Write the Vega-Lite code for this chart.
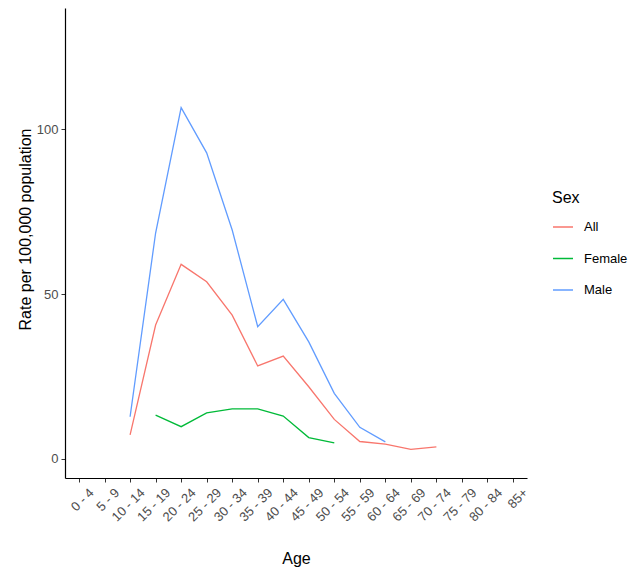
{
  "$schema": "https://vega.github.io/schema/vega-lite/v6.json",
  "width": 462,
  "height": 470,
  "autosize": "none",
  "padding": {"left": 65, "top": 8, "right": 114, "bottom": 96},
  "background": "white",
  "config": {
    "view": {"stroke": null},
    "font": "Liberation Sans"
  },
  "data": {
    "values": [
      {"age": "10 - 14", "sex": "All", "rate": 7.3},
      {"age": "15 - 19", "sex": "All", "rate": 40.6},
      {"age": "20 - 24", "sex": "All", "rate": 59.0},
      {"age": "25 - 29", "sex": "All", "rate": 53.7},
      {"age": "30 - 34", "sex": "All", "rate": 43.6},
      {"age": "35 - 39", "sex": "All", "rate": 28.2},
      {"age": "40 - 44", "sex": "All", "rate": 31.2},
      {"age": "45 - 49", "sex": "All", "rate": 21.9},
      {"age": "50 - 54", "sex": "All", "rate": 12.0},
      {"age": "55 - 59", "sex": "All", "rate": 5.3},
      {"age": "60 - 64", "sex": "All", "rate": 4.5},
      {"age": "65 - 69", "sex": "All", "rate": 2.9},
      {"age": "70 - 74", "sex": "All", "rate": 3.7},
      {"age": "15 - 19", "sex": "Female", "rate": 13.3},
      {"age": "20 - 24", "sex": "Female", "rate": 9.8},
      {"age": "25 - 29", "sex": "Female", "rate": 14.0},
      {"age": "30 - 34", "sex": "Female", "rate": 15.2},
      {"age": "35 - 39", "sex": "Female", "rate": 15.2},
      {"age": "40 - 44", "sex": "Female", "rate": 13.0},
      {"age": "45 - 49", "sex": "Female", "rate": 6.5},
      {"age": "50 - 54", "sex": "Female", "rate": 4.9},
      {"age": "10 - 14", "sex": "Male", "rate": 12.8},
      {"age": "15 - 19", "sex": "Male", "rate": 68.5},
      {"age": "20 - 24", "sex": "Male", "rate": 106.5},
      {"age": "25 - 29", "sex": "Male", "rate": 92.8},
      {"age": "30 - 34", "sex": "Male", "rate": 69.4},
      {"age": "35 - 39", "sex": "Male", "rate": 40.1},
      {"age": "40 - 44", "sex": "Male", "rate": 48.4},
      {"age": "45 - 49", "sex": "Male", "rate": 35.5},
      {"age": "50 - 54", "sex": "Male", "rate": 19.9},
      {"age": "55 - 59", "sex": "Male", "rate": 9.6},
      {"age": "60 - 64", "sex": "Male", "rate": 5.2}
    ]
  },
  "mark": {"type": "line", "strokeWidth": 1.3},
  "encoding": {
    "x": {
      "field": "age",
      "type": "ordinal",
      "sort": null,
      "scale": {
        "type": "point",
        "padding": 0.55,
        "domain": ["0 - 4", "5 - 9", "10 - 14", "15 - 19", "20 - 24", "25 - 29", "30 - 34", "35 - 39", "40 - 44", "45 - 49", "50 - 54", "55 - 59", "60 - 64", "65 - 69", "70 - 74", "75 - 79", "80 - 84", "85+"]
      },
      "axis": {
        "title": "Age",
        "titleFontSize": 16,
        "titleFontWeight": "normal",
        "titleColor": "black",
        "titleBaseline": "middle",
        "titleY": 80,
        "labelAngle": -45,
        "labelAlign": "right",
        "labelBaseline": "top",
        "labelFontSize": 13,
        "labelColor": "#4D4D4D",
        "labelPadding": 4,
        "labelOffset": 8,
        "domainColor": "black",
        "domainWidth": 1.2,
        "tickColor": "#333333",
        "tickSize": 4,
        "grid": false
      }
    },
    "y": {
      "field": "rate",
      "type": "quantitative",
      "scale": {"domain": [-5.76, 136.7], "nice": false, "zero": false},
      "axis": {
        "title": "Rate per 100,000 population",
        "titleFontSize": 16,
        "titleFontWeight": "normal",
        "titleColor": "black",
        "titleBaseline": "middle",
        "titleX": -40,
        "titleY": 221,
        "values": [0, 50, 100],
        "labelFontSize": 13,
        "labelColor": "#4D4D4D",
        "labelPadding": 3,
        "domainColor": "black",
        "domainWidth": 1.2,
        "tickColor": "#333333",
        "tickSize": 4,
        "grid": false
      }
    },
    "color": {
      "field": "sex",
      "type": "nominal",
      "scale": {"domain": ["All", "Female", "Male"], "range": ["#F8766D", "#00BA38", "#619CFF"]},
      "legend": {
        "title": "Sex",
        "orient": "none",
        "legendX": 487,
        "legendY": 182,
        "titleFontSize": 16,
        "titleFontWeight": "normal",
        "titleColor": "black",
        "titlePadding": 10,
        "labelFontSize": 13,
        "labelColor": "black",
        "labelOffset": 10,
        "symbolType": "stroke",
        "symbolSize": 400,
        "symbolStrokeWidth": 1.5,
        "rowPadding": 13.5
      }
    }
  }
}
